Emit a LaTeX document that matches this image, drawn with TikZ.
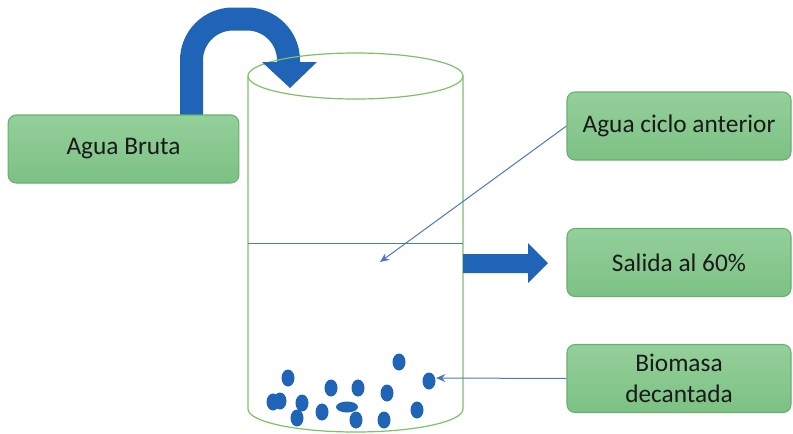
\documentclass[tikz,border=0pt]{standalone}
\usepackage{fontspec}
\setmainfont{Carlito}
\usetikzlibrary{arrows.meta}
\definecolor{flowblue}{HTML}{1F64B6}
\definecolor{thinblue}{HTML}{4A78C4}
\definecolor{boxedge}{HTML}{6AAF6E}
\definecolor{boxtop}{HTML}{94D09A}
\definecolor{boxbot}{HTML}{7CC184}
\definecolor{cylgreen}{HTML}{7CC068}
\definecolor{txt}{HTML}{1A1A1A}
\tikzset{
  labelbox/.style={draw=boxedge, line width=0.8pt, rounded corners=6pt,
    top color=boxtop, bottom color=boxbot, text=txt, align=center,
    font=\fontsize{19}{23}\selectfont, inner sep=0pt},
  cylline/.style={draw=cylgreen, line width=0.9pt},
  thinarrow/.style={draw=thinblue, line width=0.75pt, -{Stealth[length=7pt,width=6pt]}},
  dot/.style={fill=flowblue}
}
\begin{document}
\begin{tikzpicture}[x=0.75pt,y=-0.75pt]
\useasboundingbox (0,0) rectangle (793,433);
% curved inflow arrow
\draw[flowblue, line width=17.25pt, rounded corners=31pt] (191.5,118) -- (191.5,19) -- (288.5,19) -- (288.5,63);
% cylinder
\draw[cylline] (355.5,76) ellipse [x radius=107.5, y radius=23];
\draw[cylline] (248,76) -- (248,409) arc [start angle=180, end angle=0, x radius=107.5, y radius=23] -- (463,76);
% arrowhead over ellipse
\fill[flowblue] (262,62) -- (317,62) -- (290,88) -- cycle;
% water level
\draw[thinblue, line width=0.75pt] (248,243) -- (463,243);
% outflow arrow
\fill[flowblue] (463,254) -- (528,254) -- (528,243) -- (548,263) -- (528,283) -- (528,273) -- (463,273) -- cycle;
% boxes
\node[labelbox, minimum width=173pt, minimum height=51pt] (bruta) at (123.5,149) {Agua Bruta};
\node[labelbox, minimum width=168pt, minimum height=51pt] (ciclo) at (679,126) {Agua ciclo anterior};
\node[labelbox, minimum width=168pt, minimum height=51pt] (salida) at (679,262.5) {Salida al 60\%};
\node[labelbox, minimum width=168pt, minimum height=51pt] (biomasa) at (679,378.5) {Biomasa\\decantada};
% biomass dots
\fill[dot] (288,378) ellipse [x radius=6.5, y radius=8.5];
\fill[dot] (399,362) ellipse [x radius=6.5, y radius=8.5];
\fill[dot] (429,381) ellipse [x radius=6.5, y radius=8.5];
\fill[dot] (273,402) ellipse [x radius=6.5, y radius=8.5];
\fill[dot] (280,401) ellipse [x radius=6.5, y radius=8.5];
\fill[dot] (302,403) ellipse [x radius=6.5, y radius=8.5];
\fill[dot] (297,418) ellipse [x radius=6.5, y radius=8.5];
\fill[dot] (331,388) ellipse [x radius=6.5, y radius=8.5];
\fill[dot] (322,412) ellipse [x radius=6.5, y radius=8.5];
\fill[dot] (358,388) ellipse [x radius=6.5, y radius=8.5];
\fill[dot] (347,407) ellipse [x radius=11, y radius=5.5];
\fill[dot] (356,420) ellipse [x radius=6.5, y radius=8.5];
\fill[dot] (387,393) ellipse [x radius=6.5, y radius=8.5];
\fill[dot] (384,420) ellipse [x radius=6.5, y radius=8.5];
\fill[dot] (417,410) ellipse [x radius=6.5, y radius=8.5];
% pointers
\coordinate (water) at (380,262);
\coordinate (sludge) at (436,378);
\draw[thinarrow] (ciclo.west) -- (water);
\draw[thinarrow] (biomasa.west) -- (sludge);
\end{tikzpicture}
\end{document}
